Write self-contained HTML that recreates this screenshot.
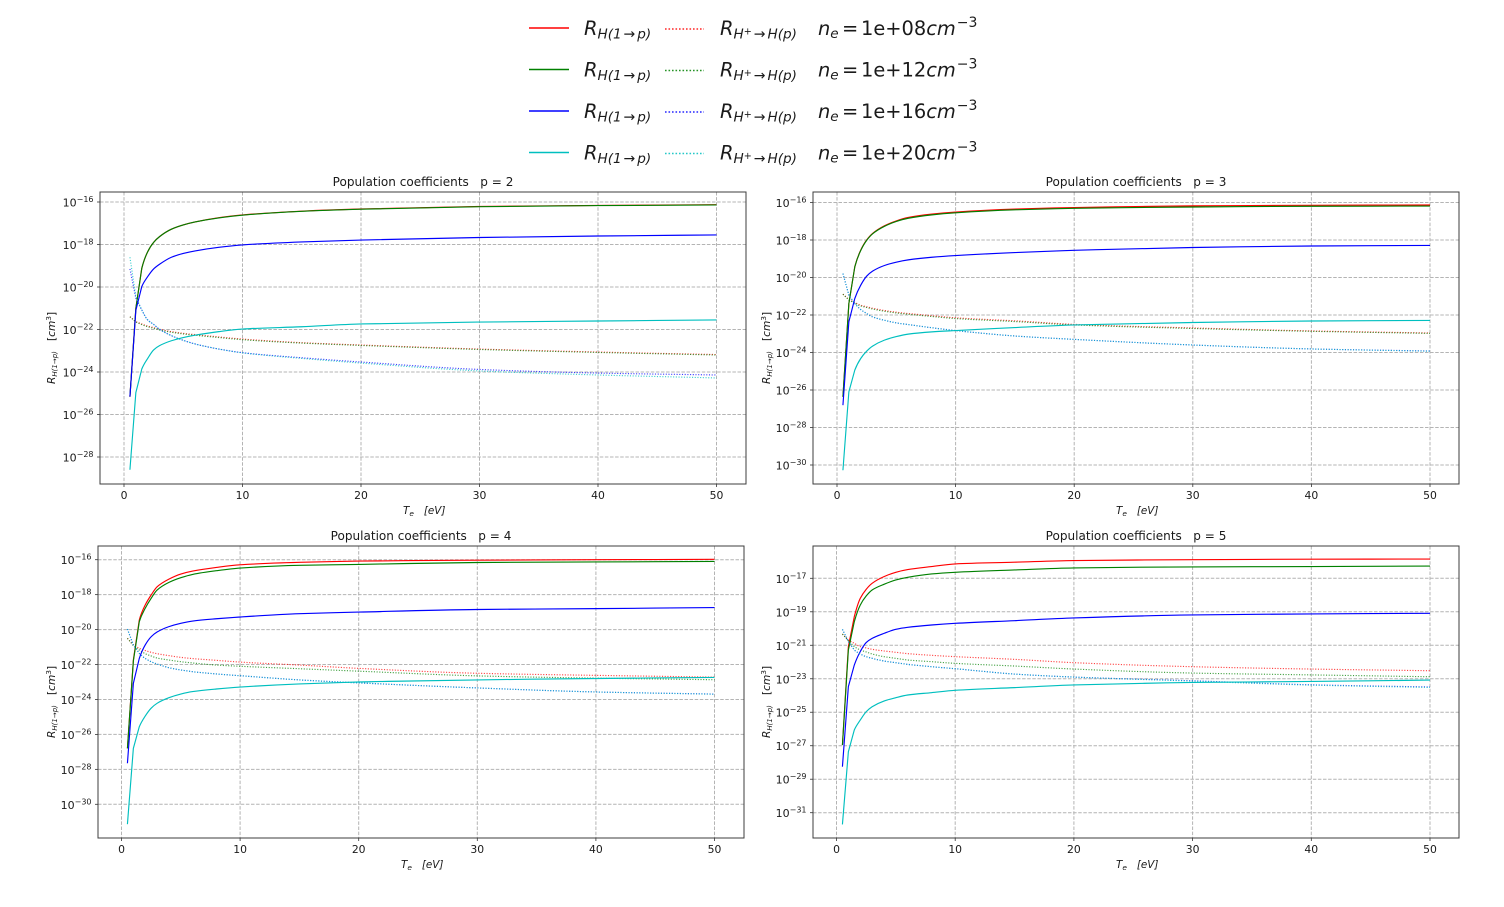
<!DOCTYPE html>
<html lang="en">
<head>
<meta charset="utf-8">
<title>Population coefficients</title>
<style>
html,body{margin:0;padding:0;background:#fff;}
svg{display:block;filter:blur(0.3px);}
text{font-family:"DejaVu Sans","Liberation Sans",sans-serif;fill:#1a1a1a;}
.it{font-style:italic;}
</style>
</head>
<body>
<svg id="figure" xmlns="http://www.w3.org/2000/svg" width="1504" height="907" viewBox="0 0 1504 907">
  <g id="legend"></g>
  <g id="panels"></g>
</svg>
<script>
// Shared electron temperature samples (eV)
const temps = [0.5,1,1.5,2,2.5,3,4,5,6,8,10,15,20,30,40,50];

// Density legend labels
const densityLabels = ["1e+08","1e+12","1e+16","1e+20"];
const panelLevels = [2,3,4,5];
const xTickLabels = [0,10,20,30,40,50];

// Y tick exponents
const yTicksP2 = [-16,-18,-20,-22,-24,-26,-28];
const yTicksP3 = [-16,-18,-20,-22,-24,-26,-28,-30];
const yTicksP4 = [-16,-18,-20,-22,-24,-26,-28,-30];
const yTicksP5 = [-17,-19,-21,-23,-25,-27,-29,-31];

// log10 of the coefficient, p = 2
const p2SolidRed = [-25.16,-21.0,-19.12,-18.34,-17.9,-17.63,-17.28,-17.08,-16.94,-16.74,-16.61,-16.43,-16.33,-16.21,-16.16,-16.13];
const p2SolidGreen = [-25.16,-21.0,-19.12,-18.34,-17.9,-17.63,-17.28,-17.08,-16.94,-16.75,-16.62,-16.44,-16.34,-16.22,-16.17,-16.14];
const p2SolidBlue = [-25.16,-21.1,-19.98,-19.51,-19.15,-18.93,-18.6,-18.42,-18.3,-18.13,-18.02,-17.88,-17.79,-17.67,-17.6,-17.55];
const p2SolidCyan = [-28.6,-24.97,-23.86,-23.36,-22.96,-22.76,-22.53,-22.38,-22.27,-22.1,-21.98,-21.87,-21.74,-21.65,-21.6,-21.55];
const p2DotRed = [-21.4,-21.63,-21.74,-21.84,-21.91,-21.99,-22.1,-22.18,-22.24,-22.35,-22.45,-22.62,-22.73,-22.92,-23.06,-23.18];
const p2DotGreen = [-21.4,-21.65,-21.77,-21.87,-21.94,-22.02,-22.13,-22.21,-22.27,-22.38,-22.48,-22.64,-22.75,-22.94,-23.08,-23.2];
const p2DotBlue = [-19.15,-20.53,-21.08,-21.55,-21.76,-21.99,-22.29,-22.51,-22.68,-22.92,-23.09,-23.33,-23.53,-23.88,-24.05,-24.14];
const p2DotCyan = [-18.6,-20.45,-21.08,-21.55,-21.76,-21.99,-22.29,-22.51,-22.68,-22.92,-23.1,-23.36,-23.58,-23.95,-24.14,-24.28];

// log10 of the coefficient, p = 3
const p3SolidRed = [-26.36,-21.39,-19.43,-18.54,-18.0,-17.65,-17.24,-16.98,-16.8,-16.62,-16.51,-16.35,-16.27,-16.18,-16.15,-16.13];
const p3SolidGreen = [-26.36,-21.39,-19.43,-18.56,-18.02,-17.67,-17.27,-17.01,-16.84,-16.66,-16.55,-16.39,-16.31,-16.24,-16.2,-16.19];
const p3SolidBlue = [-26.81,-22.36,-21.12,-20.41,-19.93,-19.66,-19.36,-19.18,-19.06,-18.92,-18.83,-18.67,-18.55,-18.4,-18.32,-18.29];
const p3SolidCyan = [-30.28,-26.1,-24.94,-24.32,-23.93,-23.66,-23.34,-23.15,-23.02,-22.9,-22.83,-22.67,-22.53,-22.4,-22.32,-22.29];
const p3DotRed = [-20.89,-21.17,-21.33,-21.48,-21.56,-21.64,-21.76,-21.85,-21.92,-22.04,-22.15,-22.31,-22.5,-22.69,-22.85,-22.96];
const p3DotGreen = [-20.89,-21.2,-21.37,-21.52,-21.6,-21.68,-21.8,-21.89,-21.96,-22.08,-22.19,-22.35,-22.53,-22.72,-22.87,-22.98];
const p3DotBlue = [-19.79,-20.94,-21.39,-21.71,-21.92,-22.1,-22.28,-22.42,-22.51,-22.68,-22.83,-23.12,-23.3,-23.6,-23.81,-23.92];
const p3DotCyan = [-19.79,-20.94,-21.39,-21.71,-21.92,-22.1,-22.28,-22.42,-22.51,-22.68,-22.83,-23.12,-23.3,-23.6,-23.81,-23.93];

// log10 of the coefficient, p = 4
const p4SolidRed = [-26.8,-21.74,-19.45,-18.59,-18.02,-17.55,-17.11,-16.82,-16.65,-16.44,-16.29,-16.15,-16.08,-16.03,-16.0,-15.98];
const p4SolidGreen = [-26.8,-21.8,-19.55,-18.78,-18.21,-17.74,-17.3,-17.03,-16.84,-16.63,-16.48,-16.32,-16.27,-16.16,-16.13,-16.1];
const p4SolidBlue = [-27.65,-23.08,-21.65,-20.88,-20.41,-20.14,-19.83,-19.64,-19.51,-19.38,-19.28,-19.09,-19.0,-18.85,-18.8,-18.74];
const p4SolidCyan = [-31.14,-26.8,-25.56,-24.95,-24.5,-24.22,-23.9,-23.69,-23.55,-23.4,-23.29,-23.11,-23.0,-22.88,-22.8,-22.74];
const p4DotRed = [-20.5,-20.88,-21.07,-21.2,-21.3,-21.38,-21.49,-21.59,-21.66,-21.76,-21.86,-22.03,-22.22,-22.5,-22.62,-22.72];
const p4DotGreen = [-20.5,-20.92,-21.17,-21.38,-21.51,-21.63,-21.74,-21.84,-21.91,-22.03,-22.1,-22.24,-22.38,-22.65,-22.78,-22.87];
const p4DotBlue = [-19.97,-20.88,-21.36,-21.65,-21.84,-21.97,-22.18,-22.31,-22.41,-22.54,-22.64,-22.88,-23.05,-23.34,-23.57,-23.69];
const p4DotCyan = [-19.97,-20.88,-21.36,-21.65,-21.84,-21.97,-22.18,-22.31,-22.41,-22.54,-22.64,-22.88,-23.05,-23.34,-23.57,-23.7];

// log10 of the coefficient, p = 5
const p5SolidRed = [-26.96,-21.08,-19.29,-18.2,-17.66,-17.3,-16.9,-16.64,-16.48,-16.3,-16.14,-16.04,-15.94,-15.89,-15.86,-15.85];
const p5SolidGreen = [-26.96,-21.28,-19.59,-18.6,-18.06,-17.7,-17.36,-17.1,-16.94,-16.74,-16.64,-16.5,-16.38,-16.32,-16.3,-16.27];
const p5SolidBlue = [-28.25,-23.47,-22.18,-21.38,-20.84,-20.59,-20.29,-20.05,-19.93,-19.79,-19.69,-19.53,-19.37,-19.19,-19.13,-19.09];
const p5SolidCyan = [-31.7,-27.36,-26.06,-25.47,-24.97,-24.67,-24.33,-24.13,-23.97,-23.83,-23.69,-23.53,-23.37,-23.22,-23.16,-23.08];
const p5DotRed = [-20.33,-20.69,-20.88,-21.08,-21.16,-21.24,-21.34,-21.42,-21.5,-21.6,-21.68,-21.84,-22.04,-22.28,-22.42,-22.52];
const p5DotGreen = [-20.33,-20.73,-21.08,-21.28,-21.4,-21.52,-21.68,-21.78,-21.88,-21.98,-22.08,-22.24,-22.42,-22.66,-22.77,-22.88];
const p5DotBlue = [-20.05,-20.78,-21.28,-21.52,-21.68,-21.78,-21.94,-22.04,-22.14,-22.28,-22.4,-22.72,-22.9,-23.12,-23.36,-23.49];
const p5DotCyan = [-20.05,-20.78,-21.28,-21.52,-21.68,-21.78,-21.94,-22.04,-22.14,-22.28,-22.4,-22.72,-22.9,-23.14,-23.38,-23.52];

const NS = "http://www.w3.org/2000/svg";
const seriesColors = ["#ff0000","#008000","#0000ff","#00bfbf"];
const colorNames = ["red","green","blue","cyan"];

function el(tag, attrs, parent, txt){
  const n = document.createElementNS(NS, tag);
  for(const k in attrs) n.setAttribute(k, attrs[k]);
  if(txt !== undefined) n.textContent = txt;
  if(parent) parent.appendChild(n);
  return n;
}

// Panel layout: frame + the axis anchors (data value -> pixel)
const panelDefs = [
  {level:panelLevels[0], left:100, right:746, top:192, bottom:484, labelX:55, x0:124,   x50:716.5, yA:-16, pA:202,   yB:-28, pB:457,   yTicks:yTicksP2,
   solid:[p2SolidRed,p2SolidGreen,p2SolidBlue,p2SolidCyan], dot:[p2DotRed,p2DotGreen,p2DotBlue,p2DotCyan]},
  {level:panelLevels[1], left:813, right:1459, top:192, bottom:484, labelX:770, x0:837,  x50:1430,  yA:-16, pA:202.5, yB:-30, pB:465,   yTicks:yTicksP3,
   solid:[p3SolidRed,p3SolidGreen,p3SolidBlue,p3SolidCyan], dot:[p3DotRed,p3DotGreen,p3DotBlue,p3DotCyan]},
  {level:panelLevels[2], left:98,  right:744, top:546, bottom:838, labelX:55, x0:121.5, x50:714.5, yA:-16, pA:559.7, yB:-30, pB:804.3, yTicks:yTicksP4,
   solid:[p4SolidRed,p4SolidGreen,p4SolidBlue,p4SolidCyan], dot:[p4DotRed,p4DotGreen,p4DotBlue,p4DotCyan]},
  {level:panelLevels[3], left:813, right:1459, top:546, bottom:838, labelX:770, x0:836.5,x50:1430,  yA:-17, pA:578.3, yB:-31, pB:812.7, yTicks:yTicksP5,
   solid:[p5SolidRed,p5SolidGreen,p5SolidBlue,p5SolidCyan], dot:[p5DotRed,p5DotGreen,p5DotBlue,p5DotCyan]}
];

// Straight joins for the coarse first samples, monotone curve afterwards
function seriesPath(vals, xScale, yScale){
  const xs = temps.map(xScale);
  const ys = vals.map(yScale);
  const n = xs.length;
  const slope = [];
  for(let i=0;i<n-1;i++) slope.push((ys[i+1]-ys[i])/(xs[i+1]-xs[i]));
  const tan = [];
  for(let i=0;i<n;i++){
    if(i===0) tan.push(slope[0]);
    else if(i===n-1) tan.push(slope[n-2]);
    else if(slope[i-1]*slope[i]<=0) tan.push(0);
    else {
      const h0 = xs[i]-xs[i-1], h1 = xs[i+1]-xs[i];
      const w1 = 2*h1+h0, w2 = h1+2*h0;
      tan.push((w1+w2)/(w1/slope[i-1]+w2/slope[i]));
    }
  }
  let d = "M"+xs[0].toFixed(2)+" "+ys[0].toFixed(2);
  for(let i=0;i<n-1;i++){
    if(i<2){ d += "L"+xs[i+1].toFixed(2)+" "+ys[i+1].toFixed(2); continue; }
    const h = xs[i+1]-xs[i];
    d += "C"+(xs[i]+h/3).toFixed(2)+" "+(ys[i]+tan[i]*h/3).toFixed(2)+" "+
         (xs[i+1]-h/3).toFixed(2)+" "+(ys[i+1]-tan[i+1]*h/3).toFixed(2)+" "+
         xs[i+1].toFixed(2)+" "+ys[i+1].toFixed(2);
  }
  return d;
}

function drawPanel(def, root){
  const xScale = t => def.x0 + (t/50)*(def.x50-def.x0);
  const yScale = v => def.pA + (v-def.yA)/(def.yB-def.yA)*(def.pB-def.pA);
  const w = def.right-def.left, h = def.bottom-def.top;

  const g = el("g", {}, root);
  
  

  const frame = el("rect", {x:def.left, y:def.top, width:w, height:h, fill:"#fff"}, g);
  
  

  // grid + ticks, x
  xTickLabels.forEach(t => {
    const x = xScale(t);
    const gl = el("line", {x1:x, x2:x, y1:def.top, y2:def.bottom, stroke:"#b4b4b4", "stroke-width":1, "stroke-dasharray":"3.5 1.6"}, g);
    
    
    el("line", {x1:x, x2:x, y1:def.bottom, y2:def.bottom+3, stroke:"#333", "stroke-width":0.8}, g);
    const lb = el("text", {x:x, y:def.bottom+15, "text-anchor":"middle", "font-size":10.8}, g, String(t));
    
    
  });

  // grid + ticks, y
  def.yTicks.forEach(v => {
    const y = yScale(v);
    const gl = el("line", {x1:def.left, x2:def.right, y1:y, y2:y, stroke:"#b4b4b4", "stroke-width":1, "stroke-dasharray":"3.5 1.6"}, g);
    
    
    el("line", {x1:def.left-3, x2:def.left, y1:y, y2:y, stroke:"#333", "stroke-width":0.8}, g);
    const lb = el("text", {x:def.left-6.5, y:y+4.5, "text-anchor":"end", "font-size":11}, g);
    
    
    el("tspan", {}, lb, "10");
    el("tspan", {dy:-4.5, "font-size":8}, lb, "\u2212" + Math.abs(v));
  });

  // series: solid and dotted pairs per density
  def.solid.forEach((vals, i) => {
    const solid = el("path", {fill:"none", stroke:seriesColors[i], "stroke-width":1.15,
      d: seriesPath(vals, xScale, yScale)}, g);
    
    
    const dotted = el("path", {fill:"none", stroke:seriesColors[i], "stroke-width":1.15, "stroke-dasharray":"1.1 1.6", opacity:0.75,
      d: seriesPath(def.dot[i], xScale, yScale)}, g);
    
    
  });

  // spines
  const sp = el("rect", {x:def.left, y:def.top, width:w, height:h, fill:"none", stroke:"#3c3c3c", "stroke-width":1}, g);
  
  

  // title
  const cx = (def.left+def.right)/2;
  const title = el("text", {x:cx, y:def.top-6, "text-anchor":"middle", "font-size":12.05, style:"white-space:pre"}, g, "Population coefficients   p = " + def.level);
  
  

  // x label
  const xl = el("text", {x:cx-20, y:def.bottom+30, "font-size":10.4, style:"white-space:pre"}, g);
  
  
  el("tspan", {class:"it"}, xl, "T");
  el("tspan", {class:"it", dy:2, "font-size":7.4}, xl, "e");
  el("tspan", {class:"it", dy:-2}, xl, "   [eV]");

  // y label
  const ycx = (def.top+def.bottom)/2;
  const yl = el("text", {transform:"translate("+def.labelX+","+(ycx+46)+") rotate(-90)", "font-size":10.6, style:"white-space:pre"}, g);
  
  
  el("tspan", {class:"it"}, yl, "R");
  el("tspan", {class:"it", dy:2, "font-size":7}, yl, "H(1\u2192p)");
  el("tspan", {dy:-2}, yl, "   [");
  el("tspan", {class:"it"}, yl, "cm");
  el("tspan", {dy:-4, "font-size":7.4}, yl, "3");
  el("tspan", {dy:4}, yl, "]");
}

function drawLegend(root){
  const rowY = [28,69.5,111,152.5];
  densityLabels.forEach((label,i) => {
    const y = rowY[i];
    const g = el("g", {}, root);
    
    
    const s = el("line", {x1:529, x2:569, y1:y, y2:y, stroke:seriesColors[i], "stroke-width":1.6}, g);
    
    
    const d = el("line", {x1:665, x2:704, y1:y+1, y2:y+1, stroke:seriesColors[i], "stroke-width":1.6, "stroke-dasharray":"1.6 1.9", opacity:0.85}, g);
    
    

    const t1 = el("text", {x:584, y:y+7, "font-size":19.4}, g);
    
    
    el("tspan", {class:"it"}, t1, "R");
    el("tspan", {class:"it", dy:3.5, "font-size":13.6}, t1, "H(1");
    el("tspan", {dx:1.8, "font-size":14}, t1, "\u2192");
    el("tspan", {class:"it", dx:2, "font-size":13.6}, t1, "p)");

    const t2 = el("text", {x:720, y:y+7, "font-size":19.4}, g);
    
    
    el("tspan", {class:"it"}, t2, "R");
    el("tspan", {class:"it", dy:3.5, "font-size":13.6}, t2, "H");
    el("tspan", {dy:-4, "font-size":9.6}, t2, "+");
    el("tspan", {dy:4, dx:2, "font-size":14}, t2, "\u2192");
    el("tspan", {class:"it", dx:2, "font-size":13.6}, t2, "H(p)");

    const t3 = el("text", {x:818, y:y+7, "font-size":19.4, style:"white-space:pre"}, g);
    
    
    el("tspan", {class:"it"}, t3, "n");
    el("tspan", {class:"it", dy:3, "font-size":13.6}, t3, "e");
    el("tspan", {dy:-3, x:842}, t3, "=");
    el("tspan", {x:861}, t3, label);
    el("tspan", {class:"it"}, t3, "cm");
    el("tspan", {dy:-8, dx:1, "font-size":14}, t3, "\u22123");
  });
}

drawLegend(document.getElementById("legend"));
const panelsRoot = document.getElementById("panels");
panelDefs.forEach(d => drawPanel(d, panelsRoot));
</script>
</body>
</html>
